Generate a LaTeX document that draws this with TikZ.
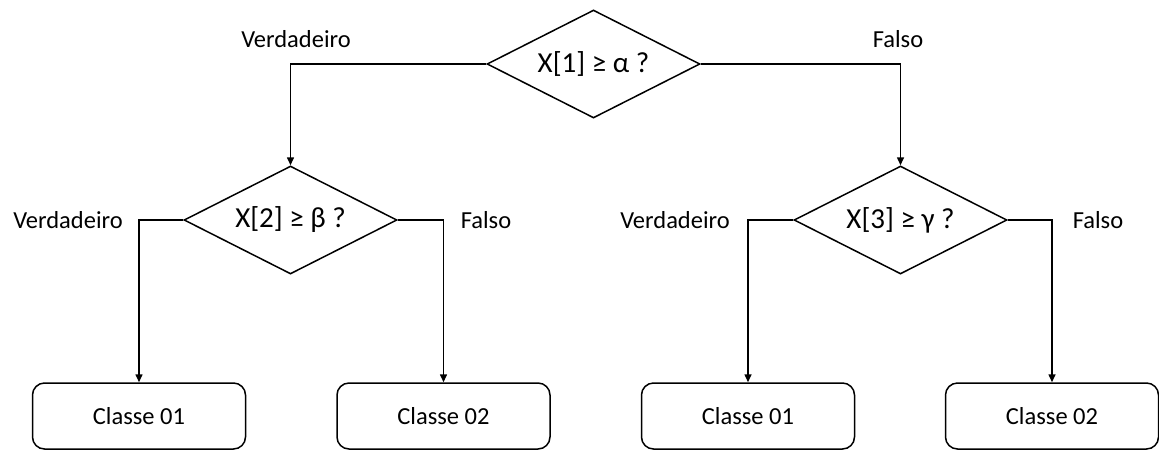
\documentclass[tikz,border=0pt]{standalone}
\usepackage{fontspec}
\setmainfont{Carlito}
\usetikzlibrary{shapes.geometric,arrows.meta}
\begin{document}
\begin{tikzpicture}[x=1pt,y=-1pt,
  line width=1.5pt,
  decision/.style={draw,diamond,inner sep=0pt,shape aspect=2,
    minimum width=213pt,minimum height=108pt,font=\fontsize{29}{31}\selectfont},
  leaf/.style={draw,rectangle,rounded corners=12pt,
    minimum width=213pt,minimum height=66pt,font=\fontsize{24.5}{27}\selectfont},
  branch/.style={font=\fontsize{24.5}{27}\selectfont,anchor=base,inner sep=0pt},
  arr/.style={-{Triangle[length=8pt,width=7pt]}}]
\useasboundingbox (0,0) rectangle (1159,451);

% decision nodes
\node[decision] (d1) at (593.5,64) {X[1] ≥ α ?};
\node[decision] (d2) at (290.5,220) {X[2] ≥ β ?};
\node[decision] (d3) at (900.5,220) {X[3] ≥ γ ?};

% leaves
\node[leaf] (c1) at (139,416) {Classe 01};
\node[leaf] (c2) at (443.5,416) {Classe 02};
\node[leaf] (c3) at (748,416) {Classe 01};
\node[leaf] (c4) at (1052,416) {Classe 02};

% connectors
\draw[arr] (d1.west) -| (d2.north);
\draw[arr] (d1.east) -| (d3.north);
\draw[arr] (d2.west) -| (c1.north);
\draw[arr] (d2.east) -| (c2.north);
\draw[arr] (d3.west) -| (c3.north);
\draw[arr] (d3.east) -| (c4.north);

% branch labels
\node[branch] (l1) at (296,47) {Verdadeiro};
\node[branch] (l2) at (898,47) {Falso};
\node[branch] (l3) at (68,228) {Verdadeiro};
\node[branch] (l4) at (486,228) {Falso};
\node[branch] (l5) at (675,228) {Verdadeiro};
\node[branch] (l6) at (1098,228) {Falso};
\end{tikzpicture}
\end{document}
